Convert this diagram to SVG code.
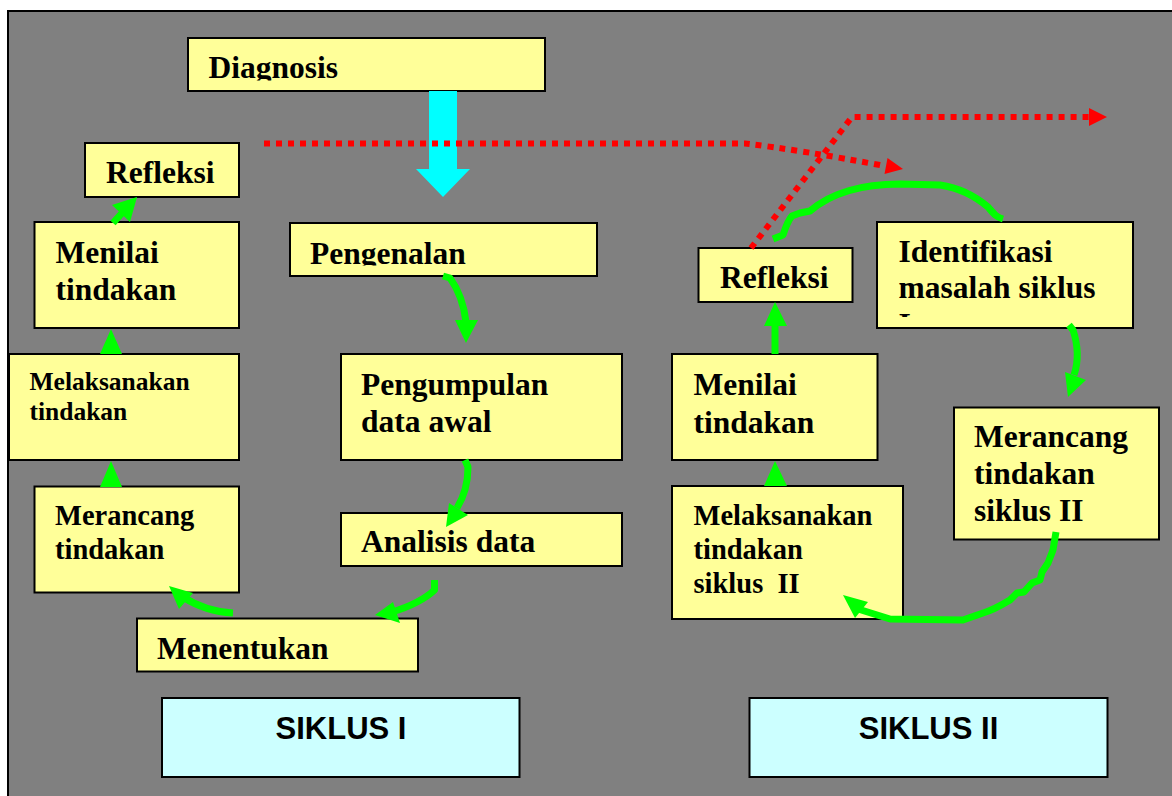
<svg xmlns="http://www.w3.org/2000/svg" width="1172" height="796" viewBox="0 0 1172 796">
<style>
.box{fill:#FFFF99;stroke:#000;stroke-width:2}
.cbox{fill:#CCFFFF;stroke:#000;stroke-width:2}
.t{font-family:"Liberation Serif","Times New Roman",serif;font-weight:bold;fill:#000}
.big{font-size:31.5px}
.med{font-size:28.5px}
.sm{font-size:25.5px}
.s{font-family:"Liberation Sans",Arial,sans-serif;font-weight:bold;font-size:31px;fill:#000}
.g{fill:none;stroke:#00FF00;stroke-width:7;stroke-linejoin:round}
.gh{fill:#00FF00}
.r{fill:none;stroke:#FF0000;stroke-width:6;stroke-dasharray:6 6}
.rh{fill:#FF0000}
</style>
<defs>
<clipPath id="clipDiag"><rect x="188" y="38" width="357" height="42.5"/></clipPath>
<clipPath id="clipPeng"><rect x="290" y="223" width="307" height="42.5"/></clipPath>
<clipPath id="clipIdent"><rect x="877" y="222" width="256" height="95"/></clipPath>
</defs>
<rect x="0" y="0" width="1172" height="796" fill="#FFFFFF"/>
<rect x="8" y="11" width="1200" height="820" fill="#808080" stroke="#000" stroke-width="2"/>

<g id="diagnosis">
<rect class="box" x="188" y="38" width="357" height="53"/>
<text class="t big" x="208.5" y="78" clip-path="url(#clipDiag)">Diagnosis</text>
</g>
<g id="refleksi1">
<rect class="box" x="85" y="143" width="154" height="54"/>
<text class="t big" x="106" y="183">Refleksi</text>
</g>
<g id="menilai1">
<rect class="box" x="34.5" y="222" width="204.5" height="106"/>
<text class="t big" x="55.5" y="263">Menilai</text>
<text class="t big" x="55.5" y="300">tindakan</text>
</g>
<g id="pengenalan">
<rect class="box" x="290" y="223" width="307" height="53"/>
<text class="t big" x="310" y="263.5" clip-path="url(#clipPeng)">Pengenalan</text>
</g>
<g id="melaksanakan1">
<rect class="box" x="9" y="354" width="230" height="106"/>
<text class="t sm" x="29.5" y="390">Melaksanakan</text>
<text class="t sm" x="29.5" y="420">tindakan</text>
</g>
<g id="pengumpulan">
<rect class="box" x="341" y="354" width="281" height="106"/>
<text class="t big" x="361" y="395">Pengumpulan</text>
<text class="t big" x="361" y="431.5">data awal</text>
</g>
<g id="merancang1">
<rect class="box" x="34.5" y="486.5" width="204.5" height="106"/>
<text class="t med" x="55" y="525">Merancang</text>
<text class="t med" x="55" y="558.5">tindakan</text>
</g>
<g id="analisis">
<rect class="box" x="341" y="513" width="281" height="53"/>
<text class="t big" x="361" y="551.5">Analisis data</text>
</g>
<g id="menentukan">
<rect class="box" x="137" y="618.5" width="281" height="53"/>
<text class="t big" x="157" y="658.5">Menentukan</text>
</g>
<g id="siklus1">
<rect class="cbox" x="162" y="698" width="357.5" height="79"/>
<text class="s" x="341" y="738.5" text-anchor="middle">SIKLUS I</text>
</g>
<g id="refleksi2">
<rect class="box" x="698.5" y="248" width="154" height="54"/>
<text class="t big" x="720" y="288">Refleksi</text>
</g>
<g id="identifikasi">
<rect class="box" x="877" y="222" width="256" height="106"/>
<g clip-path="url(#clipIdent)">
<text class="t big" x="898.5" y="262">Identifikasi</text>
<text class="t big" x="898.5" y="298">masalah siklus</text>
<text class="t big" x="898.5" y="334.5">I</text>
</g>
</g>
<g id="menilai2">
<rect class="box" x="672" y="354" width="205.5" height="106"/>
<text class="t big" x="693.5" y="395">Menilai</text>
<text class="t big" x="693.5" y="433">tindakan</text>
</g>
<g id="merancang2">
<rect class="box" x="954" y="407.5" width="205" height="132"/>
<text class="t big" x="974" y="446.5">Merancang</text>
<text class="t big" x="974" y="484">tindakan</text>
<text class="t big" x="974" y="520.5">siklus II</text>
</g>
<g id="melaksanakan2">
<rect class="box" x="672" y="486" width="231" height="133"/>
<text class="t med" x="693.5" y="525">Melaksanakan</text>
<text class="t med" x="693.5" y="558.5">tindakan</text>
<text class="t med" x="693.5" y="592.5" xml:space="preserve">siklus  II</text>
</g>
<g id="siklus2">
<rect class="cbox" x="749.5" y="698" width="358" height="79"/>
<text class="s" x="928.5" y="738.5" text-anchor="middle">SIKLUS II</text>
</g>

<g id="connectors">
<polygon fill="#00FFFF" points="429,91 457,91 457,169 470,169 443,197 416,169 429,169"/>
<!-- left cycle -->
<path class="g" d="M443,276 L450,278 Q463,296 466,322"/>
<polygon class="gh" points="455,320 478,320 466,343"/>
<path class="g" d="M465,460 L468,467 Q468,490 457,508"/>
<polygon class="gh" points="446,527 449,503 468,515"/>
<path class="g" d="M434.5,580 L434.5,590 C426,598 415,605 392,612"/>
<polygon class="gh" points="375,615 393,602 400,623"/>
<path class="g" d="M233,613 C215,612 200,608 183,597"/>
<polygon class="gh" points="169,586 179,609 193,593"/>
<polygon class="gh" points="111,461 100,487 122,487"/>
<polygon class="gh" points="111,329 100,354 122,354"/>
<path class="g" d="M113,223 L122,213"/>
<polygon class="gh" points="137,197 112,205 130,222"/>
<!-- right cycle -->
<path class="g" d="M775,354 L775,322"/>
<polygon class="gh" points="775,302 764,326 787,326"/>
<polygon class="gh" points="775,461 764,486 787,486"/>
<path class="g" d="M773,239 L783,235 Q788,220 792,216 L800,213 L810,211 C830,194 860,184 900,184 L940,185 C960,188 975,196 988,207 C994,214 996,217 1003,219"/>
<path class="g" d="M1069,325 L1073,330 C1078,345 1079,360 1074,375"/>
<polygon class="gh" points="1068,397 1065,372 1086,380"/>
<path class="g" d="M1056,532 L1053,550 L1048,563 L1042,572 L1040,580 L1032,583 L1024,592 L1017,593 L1010,600 C1000,606 990,611 983,613 L963,620 L890,619 L858,609"/>
<polygon class="gh" points="843,595 855,618 868,602"/>
<!-- red dotted -->
<path class="r" d="M264,143.5 L745,143.5 Q800,150 885,166"/>
<polygon class="rh" points="903,169 887.5,158 884.5,174"/>
<path class="r" d="M751,248 L852,117 L1090,117"/>
<polygon class="rh" points="1107,117 1089,108 1089,126"/>
</g>
</svg>
